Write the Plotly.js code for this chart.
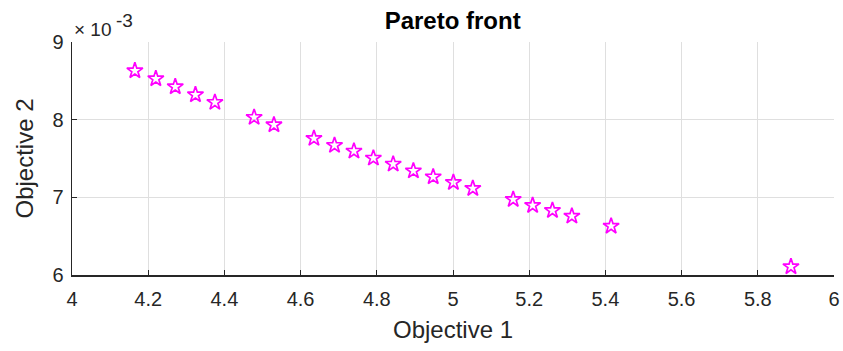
<!DOCTYPE html>
<html>
<head>
<meta charset="utf-8">
<script src="https://cdn.plot.ly/plotly-3.0.1.min.js"></script>
<style>
  html, body { margin: 0; padding: 0; background: #fff; }
  #chart { width: 843px; height: 351px; }
</style>
</head>
<body>
<div id="chart"></div>
<script>
// Pareto-optimal solutions: objective 1 vs objective 2
const objective1 = [4.165, 4.220, 4.271, 4.324, 4.375, 4.478, 4.530, 4.635, 4.689, 4.740,
                    4.791, 4.843, 4.896, 4.948, 5.001, 5.052, 5.158, 5.209, 5.261, 5.312,
                    5.415, 5.887];
const objective2 = [8.63e-3, 8.527e-3, 8.424e-3, 8.321e-3, 8.223e-3, 8.030e-3, 7.934e-3, 7.759e-3,
                    7.669e-3, 7.595e-3, 7.505e-3, 7.428e-3, 7.341e-3, 7.264e-3, 7.192e-3, 7.115e-3,
                    6.973e-3, 6.896e-3, 6.831e-3, 6.758e-3, 6.629e-3, 6.107e-3];

const xTicks = [4, 4.2, 4.4, 4.6, 4.8, 5, 5.2, 5.4, 5.6, 5.8, 6];
const xTickText = ['4', '4.2', '4.4', '4.6', '4.8', '5', '5.2', '5.4', '5.6', '5.8', '6'];
const yTicks = [0.006, 0.007, 0.008, 0.009];
const yTickText = ['6', '7', '8', '9'];

const axisColor = '#262626';
const gridColor = '#dfdfdf';
const fontFamily = 'Liberation Sans, Arial, sans-serif';

const trace = {
  x: objective1,
  y: objective2,
  mode: 'markers',
  type: 'scatter',
  marker: {
    symbol: 'star-open',
    size: 12,
    color: '#ff00ff',
    line: { width: 1.7, color: '#ff00ff' }
  },
  hoverinfo: 'x+y'
};

const layout = {
  width: 843,
  height: 351,
  margin: { l: 72, r: 9, t: 42, b: 76 },
  paper_bgcolor: '#ffffff',
  plot_bgcolor: '#ffffff',
  showlegend: false,
  font: { family: fontFamily, color: axisColor },
  title: {
    text: '<b>Pareto front</b>',
    font: { family: fontFamily, size: 24, color: '#000000' },
    x: 0.537, xanchor: 'center',
    y: 0.94, yanchor: 'middle'
  },
  xaxis: {
    range: [4, 6],
    tickvals: xTicks,
    ticktext: xTickText,
    ticks: 'inside',
    ticklen: 5,
    tickwidth: 1,
    tickcolor: axisColor,
    ticklabelstandoff: 5,
    showline: true,
    linecolor: axisColor,
    linewidth: 1.5,
    showgrid: true,
    gridcolor: gridColor,
    gridwidth: 1,
    zeroline: false,
    tickfont: { family: fontFamily, size: 20, color: axisColor },
    title: {
      text: 'Objective 1',
      font: { family: fontFamily, size: 24, color: axisColor },
      standoff: 12
    }
  },
  yaxis: {
    range: [0.006, 0.009],
    tickvals: yTicks,
    ticktext: yTickText,
    ticks: 'inside',
    ticklen: 5,
    tickwidth: 1,
    tickcolor: axisColor,
    ticklabelstandoff: 3,
    showline: true,
    linecolor: axisColor,
    linewidth: 1.5,
    showgrid: true,
    gridcolor: gridColor,
    gridwidth: 1,
    zeroline: false,
    tickfont: { family: fontFamily, size: 20, color: axisColor },
    title: {
      text: 'Objective 2',
      font: { family: fontFamily, size: 24, color: axisColor },
      standoff: 12
    }
  },
  annotations: [
    {
      // axis multiplier: base part
      text: '× 10',
      xref: 'paper', yref: 'paper',
      x: 0, y: 1,
      xanchor: 'left', yanchor: 'bottom',
      xshift: 0, yshift: 0,
      showarrow: false,
      font: { family: fontFamily, size: 19, color: axisColor }
    },
    {
      // axis multiplier: exponent
      text: '-3',
      xref: 'paper', yref: 'paper',
      x: 0, y: 1,
      xanchor: 'left', yanchor: 'bottom',
      xshift: 42, yshift: 9,
      showarrow: false,
      font: { family: fontFamily, size: 19, color: axisColor }
    }
  ]
};

Plotly.newPlot('chart', [trace], layout, { displayModeBar: false, staticPlot: true });
</script>
</body>
</html>
